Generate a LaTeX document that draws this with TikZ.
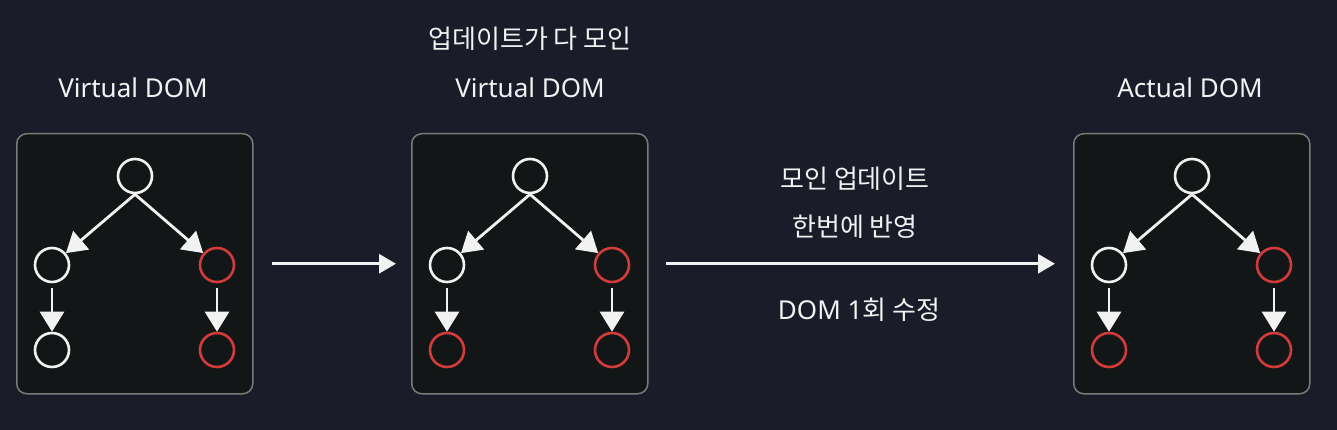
\documentclass[tikz,border=0pt]{standalone}
\usepackage{fontspec}
\setmainfont{Noto Sans}
\newfontfamily\kr{Noto Sans CJK KR}
\usetikzlibrary{arrows.meta}
\definecolor{bg}{HTML}{1B1C2A}
\definecolor{panelfill}{HTML}{131617}
\definecolor{panelline}{HTML}{7A7A7A}
\definecolor{redc}{HTML}{D23B3B}
\definecolor{ink}{HTML}{F2F2F2}
\tikzset{
  panelbox/.style={draw=panelline, line width=1.5pt, fill=panelfill, rounded corners=10pt,
    minimum width=236pt, minimum height=260pt, anchor=north west, inner sep=0pt},
  vnode/.style={circle, draw=ink, line width=2.6pt, minimum size=34pt, inner sep=0pt},
  treeedge/.style={draw=ink, line width=2.8pt, -{Triangle[length=20pt,width=24pt]}},
  flow/.style={draw=ink, line width=3pt, -{Triangle[length=17pt,width=19pt]}},
  txt/.style={text=ink, font=\fontsize{26}{30}\selectfont, inner sep=0pt},
}
% #1 prefix, #2 box left x, #3 root, #4 left, #5 right, #6 left leaf, #7 right leaf colours
\newcommand\ktree[7]{%
  \node[panelbox] (#1box) at (#2,133) {};
  \node[vnode, draw=#3] (#1r) at (#2+119,176) {};
  \node[vnode, draw=#4] (#1l) at (#2+36,265) {};
  \node[vnode, draw=#5] (#1rt) at (#2+201,265) {};
  \node[vnode, draw=#6] (#1ll) at (#2+36,350) {};
  \node[vnode, draw=#7] (#1rr) at (#2+201,350) {};
  \draw[treeedge] (#1r.south) -- (#1l);
  \draw[treeedge] (#1r.south) -- (#1rt);
  \draw[treeedge, shorten <=5pt] (#1l.south) -- (#1ll.north);
  \draw[treeedge, shorten <=5pt] (#1rt.south) -- (#1rr.north);
}
\begin{document}
\begin{tikzpicture}[x=1pt,y=-1pt]
  \fill[bg] (0,0) rectangle (1337,430);
  \useasboundingbox (0,0) rectangle (1337,430);
  \ktree{A}{16}{ink}{ink}{redc}{ink}{redc}
  \ktree{B}{411}{ink}{ink}{redc}{redc}{redc}
  \ktree{C}{1073}{ink}{ink}{redc}{redc}{redc}
  \node[txt] (t1) at (133,88) {Virtual DOM};
  \node[txt] (t2a) at (530,39) {\kr 업데이트가 다 모인};
  \node[txt] (t2) at (530,88) {Virtual DOM};
  \node[txt] (t3) at (1190,88) {Actual DOM};
  \node[txt] (m1) at (855,179) {\kr 모인 업데이트};
  \node[txt] (m2) at (855,227) {\kr 한번에 반영};
  \node[txt] (m3) at (859,310) {DOM 1{\kr 회 수정}};
  \draw[flow, shorten <=18pt, shorten >=15pt] (Abox) -- (Bbox);
  \draw[flow, shorten <=17pt, shorten >=18pt] (Bbox) -- (Cbox);
\end{tikzpicture}
\end{document}
